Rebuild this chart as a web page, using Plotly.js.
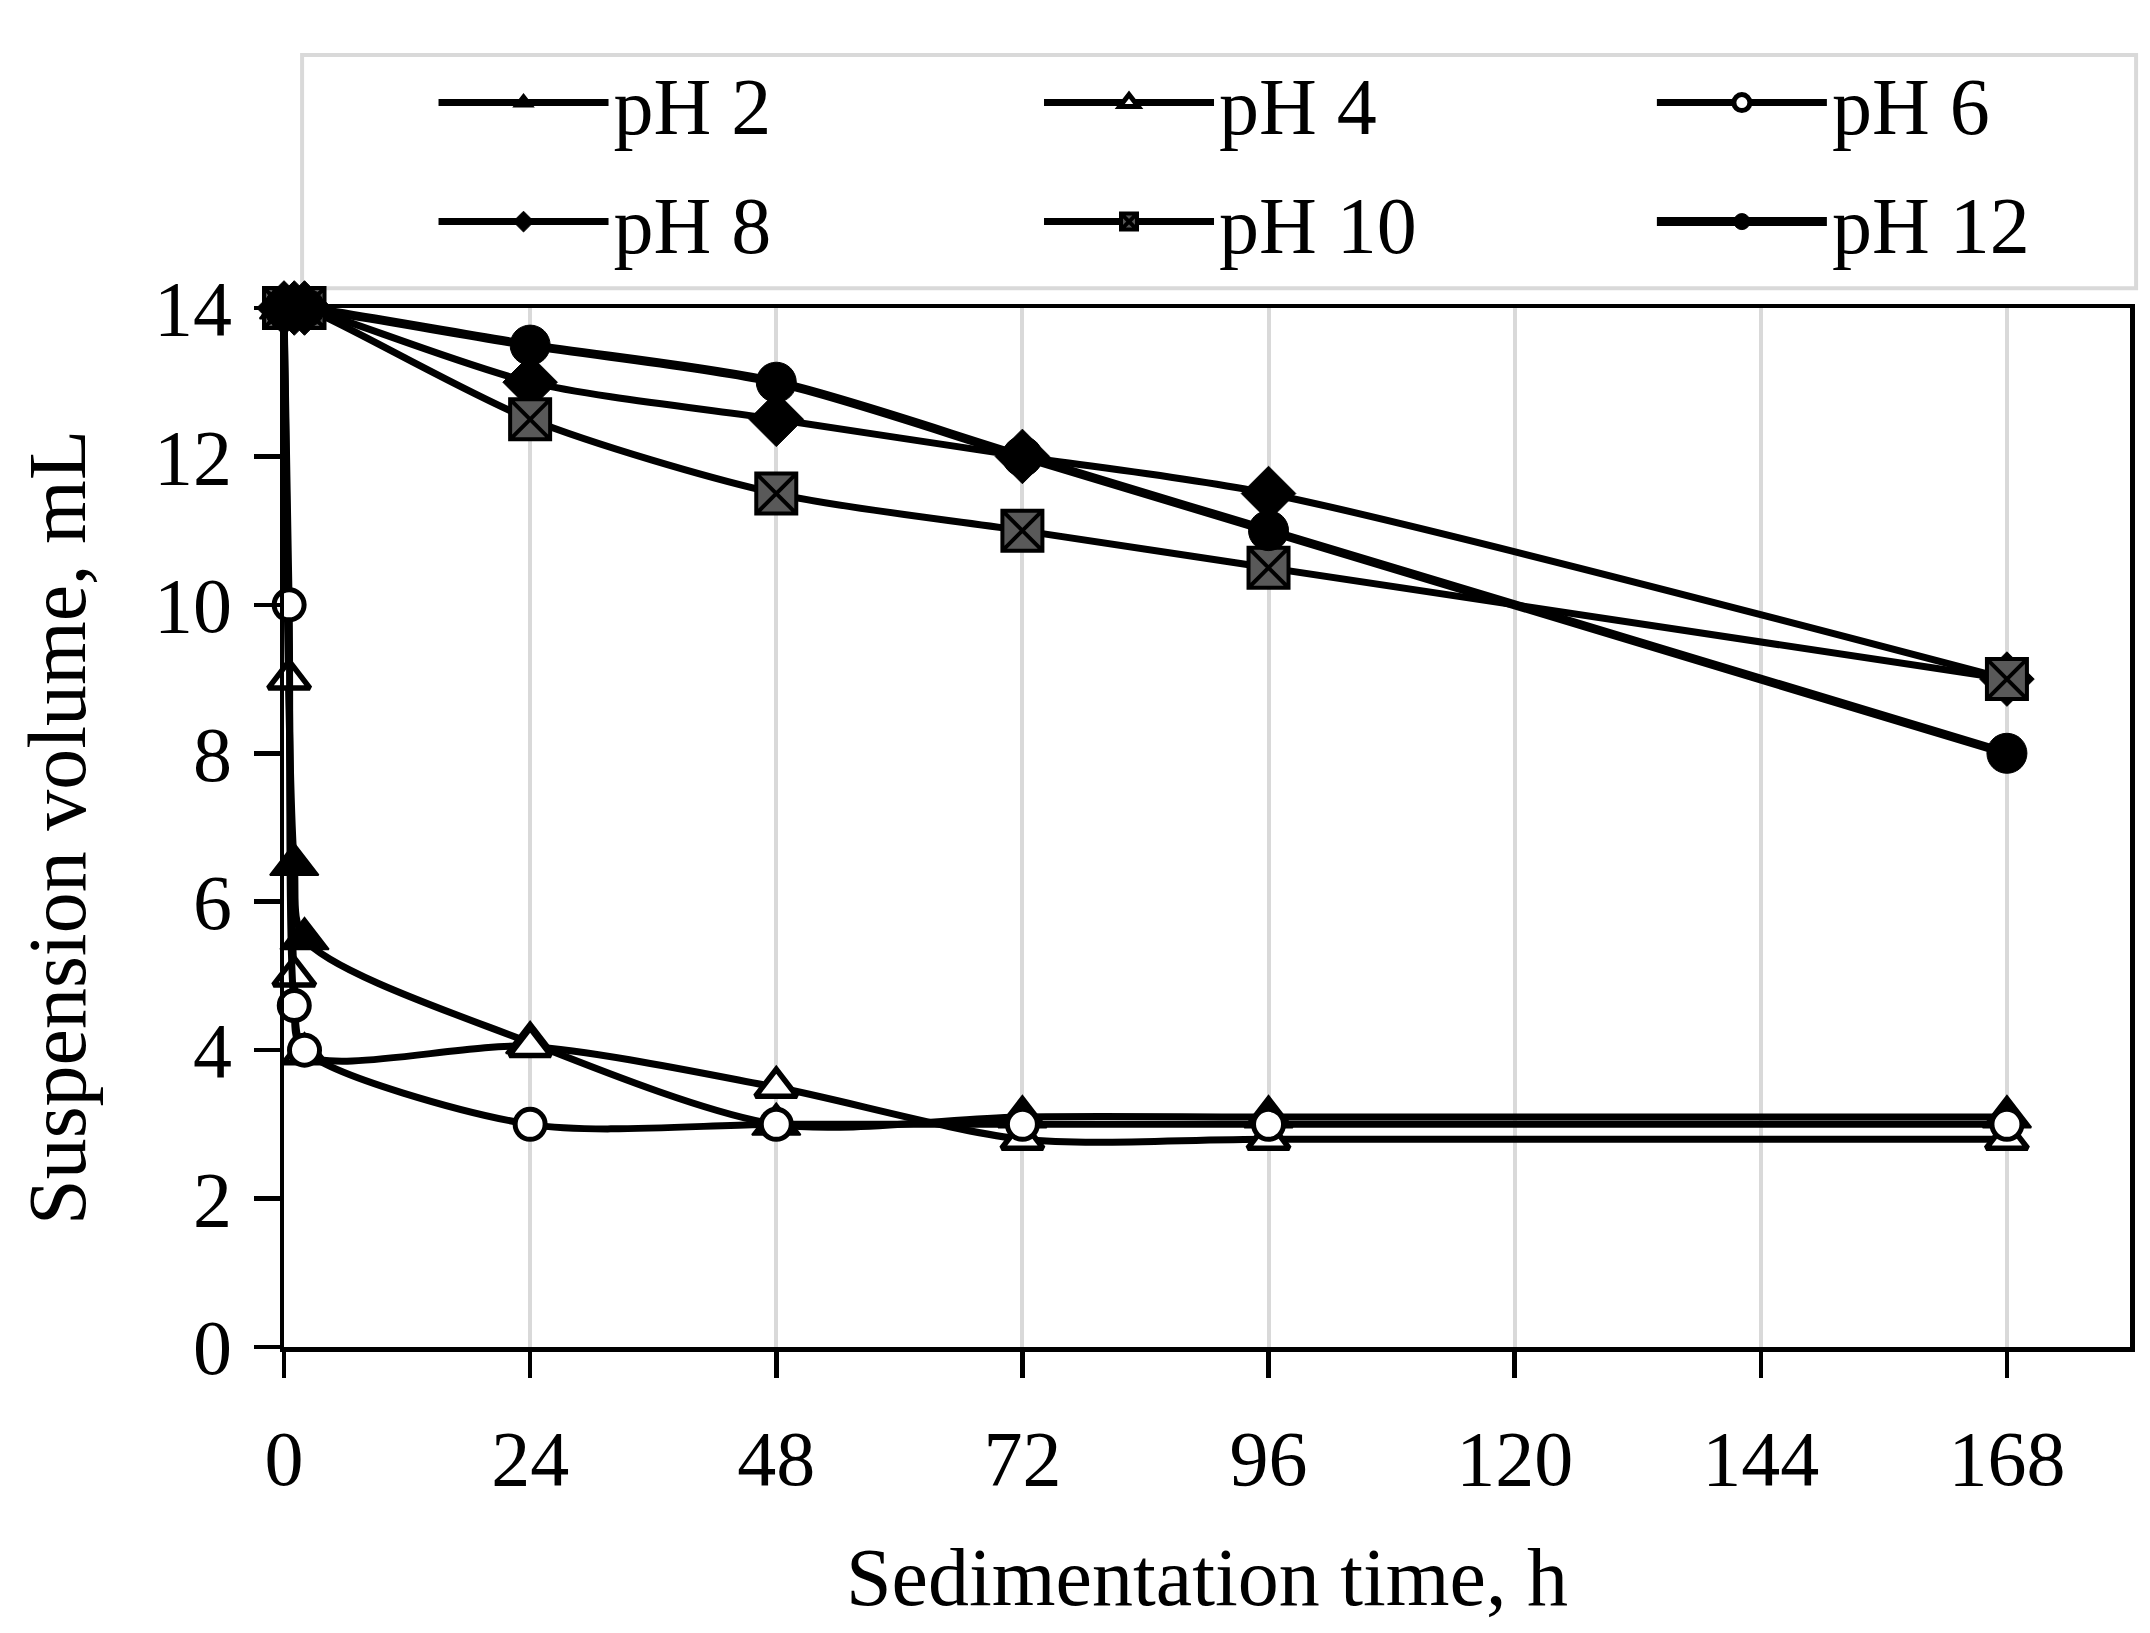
<!DOCTYPE html>
<html>
<head>
<meta charset="utf-8">
<script src="https://cdn.plot.ly/plotly-3.0.1.min.js"></script>
<style>
  html, body { margin: 0; padding: 0; background: #ffffff; }
  #chart { width: 2150px; height: 1633px; }
</style>
</head>
<body>
<div id="chart"></div>
<script>
// Sedimentation time (h) and suspension volume (mL) per pH
const timePH2 = [0, 1, 2, 24, 48, 72, 96, 168];
const volPH2 = [14, 6.5, 5.5, 4.1, 3.0, 3.1, 3.1, 3.1];

const timePH4 = [0, 0.5, 1, 2, 24, 48, 72, 96, 168];
const volPH4 = [14, 9, 5, 3.95, 4.05, 3.5, 2.8, 2.8, 2.8];

const timePH6 = [0, 0.5, 1, 2, 24, 48, 72, 96, 168];
const volPH6 = [14, 10, 4.6, 4.0, 3.0, 3.0, 3.0, 3.0, 3.0];

const timeHigh = [0, 1, 2, 24, 48, 72, 96, 168];
const volPH8 = [14, 14, 14, 13, 12.5, 12, 11.5, 9];
const volPH10 = [14, 14, 14, 12.5, 11.5, 11, 10.5, 9];
const volPH12 = [14, 14, 14, 13.5, 13, 12, 11, 8];

const xTicks = [0, 24, 48, 72, 96, 120, 144, 168];
const yTicks = [0, 2, 4, 6, 8, 10, 12, 14];

const FONT = '"Liberation Serif", "DejaVu Serif", serif';
const LEGEND_FONT = { family: FONT, size: 80, color: '#000000' };

// helper for one series
function series(name, x, y, marker, legend, lineWidth) {
    return {
        x: x,
        y: y,
        name: name,
        legend: legend,
        legendgroup: name,
        mode: 'lines+markers',
        line: { color: '#000000', width: lineWidth || 7, shape: 'spline', smoothing: 0.8 },
        marker: marker,
        cliponaxis: false
    };
}

const traces = [
    series('pH 2', timePH2, volPH2,
        { symbol: 'triangle-up', size: 42, color: '#000000', line: { color: '#000000', width: 2 } }, 'legend'),
    series('pH 4', timePH4, volPH4,
        { symbol: 'triangle-up', size: 36, color: '#ffffff', line: { color: '#000000', width: 5.5 } }, 'legend2'),
    series('pH 6', timePH6, volPH6,
        { symbol: 'circle', size: 30, color: '#ffffff', line: { color: '#000000', width: 5 } }, 'legend3'),
    series('pH 8', timeHigh, volPH8,
        { symbol: 'diamond', size: 42, color: '#000000', line: { color: '#000000', width: 1 } }, 'legend'),
    series('pH 10', timeHigh, volPH10,
        { symbol: 'square-x', size: 40, color: '#595959', line: { color: '#000000', width: 4 } }, 'legend2'),
    series('pH 12', timeHigh, volPH12,
        { symbol: 'circle', size: 40, color: '#000000', line: { color: '#000000', width: 1 } }, 'legend3', 9)
];

// one legend per column, the grey frame is drawn as a shape
function legendColumn(x) {
    return {
        orientation: 'v',
        x: x,
        xanchor: 'left',
        y: 1.254,
        yanchor: 'top',
        bgcolor: 'rgba(0,0,0,0)',
        borderwidth: 0,
        itemwidth: 170,
        tracegroupgap: 12,
        font: LEGEND_FONT
    };
}

const layout = {
    width: 2150,
    height: 1633,
    margin: { l: 284, r: 20, t: 308, b: 286 },
    paper_bgcolor: '#ffffff',
    plot_bgcolor: '#ffffff',
    font: { family: FONT, size: 78, color: '#000000' },
    showlegend: true,
    legend: legendColumn(0.081),
    legend2: legendColumn(0.409),
    legend3: legendColumn(0.741),
    shapes: [{
        type: 'rect',
        xref: 'paper', yref: 'paper',
        x0: 0.0098, x1: 1.0033, y0: 1.019, y1: 1.2435,
        line: { color: '#d9d9d9', width: 4 },
        fillcolor: '#ffffff',
        layer: 'below'
    }],
    xaxis: {
        range: [0, 180],
        tickvals: xTicks,
        ticktext: xTicks.map(String),
        ticks: 'outside',
        ticklen: 26,
        tickwidth: 4.5,
        tickcolor: '#000000',
        showline: true,
        mirror: true,
        linecolor: '#000000',
        linewidth: 4.5,
        showgrid: true,
        gridcolor: '#d9d9d9',
        gridwidth: 4,
        zeroline: false,
        ticklabelstandoff: 14,
        tickfont: { family: FONT, size: 78 },
        title: { text: 'Sedimentation time, h', font: { family: FONT, size: 82 }, standoff: 48 }
    },
    yaxis: {
        range: [0, 14],
        tickvals: yTicks,
        ticktext: yTicks.map(String),
        ticks: 'outside',
        ticklen: 26,
        tickwidth: 4.5,
        tickcolor: '#000000',
        showline: true,
        mirror: true,
        linecolor: '#000000',
        linewidth: 4.5,
        showgrid: false,
        zeroline: false,
        ticklabelstandoff: 6,
        tickfont: { family: FONT, size: 78 },
        title: { text: 'Suspension volume, mL', font: { family: FONT, size: 82 }, standoff: 42 }
    }
};

Plotly.newPlot('chart', traces, layout, { displayModeBar: false, staticPlot: true });
</script>
</body>
</html>
